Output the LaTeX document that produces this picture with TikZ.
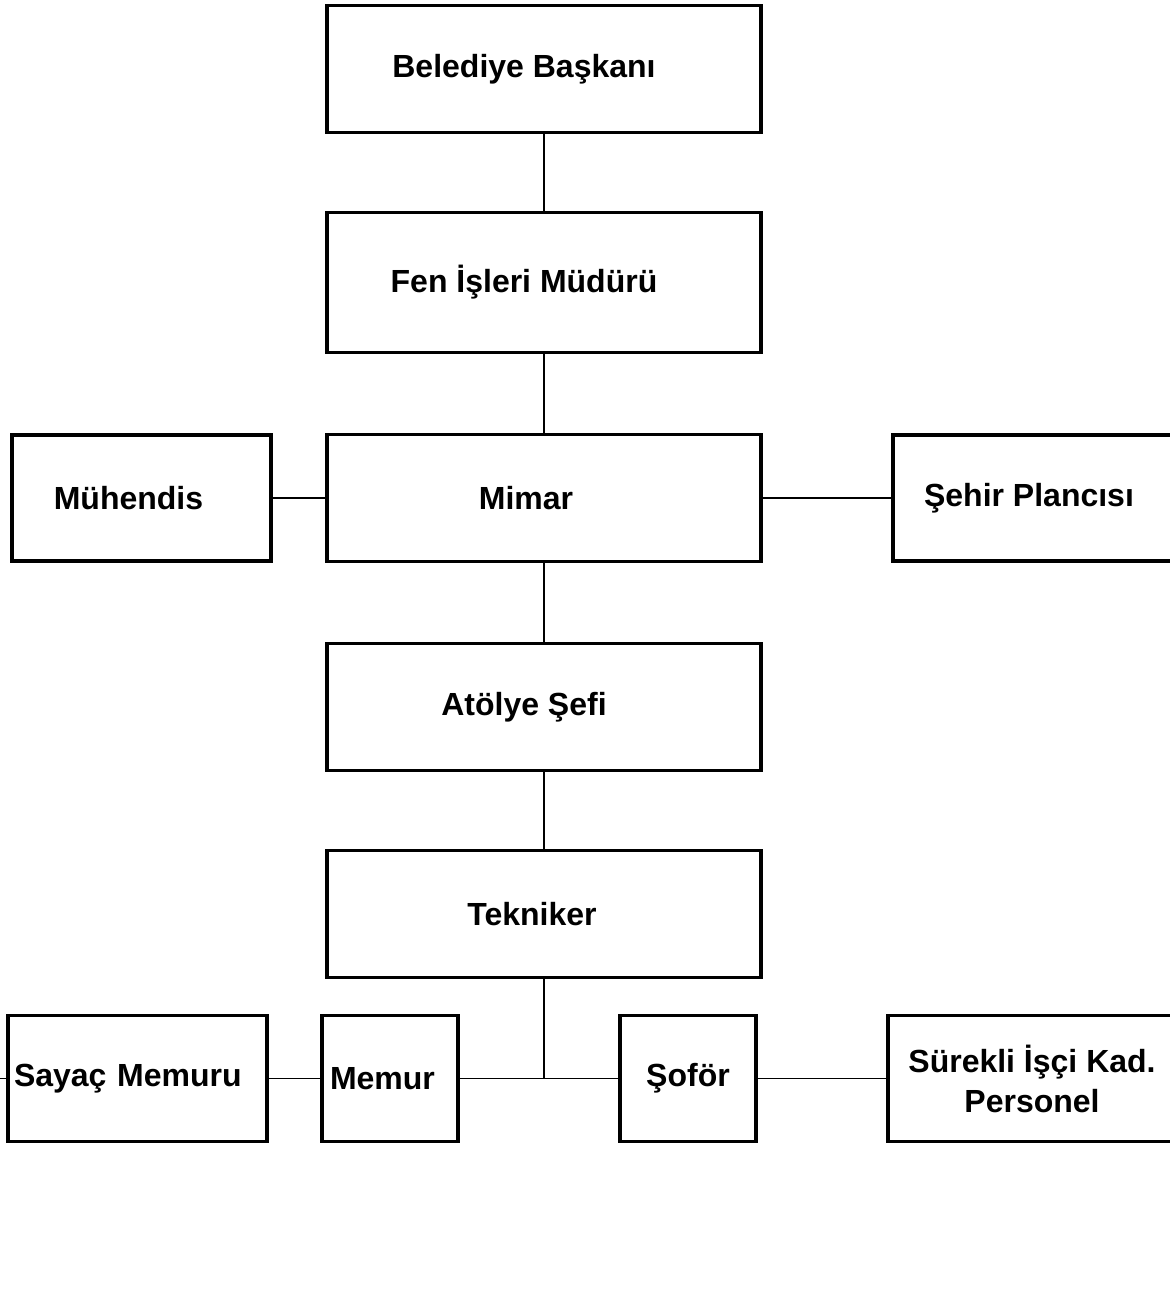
\documentclass[tikz,border=0pt]{standalone}
\usepackage{fontspec}
\setmainfont{Liberation Sans}
\usetikzlibrary{positioning}

\begin{document}
\begin{tikzpicture}[node distance=40pt and 28pt,
box/.style={draw,line width=1.6pt,outer sep=0pt,minimum width=217pt,minimum height=63.5pt,align=center,font=\fontsize{16}{20}\selectfont\bfseries},
offleft/.style={execute at end node=\hspace*{#1}},
sidebox/.style={box,minimum width=129.5pt,minimum height=63pt},
smallbox/.style={box,minimum width=68pt,minimum height=63pt},
link/.style={line width=0.7pt}]
\useasboundingbox (0,0) rectangle (585pt,-649.5pt);
% main column
\node[box,offleft=20pt] (baskan) at (272pt,-34.5pt) {Belediye Başkanı};
\node[box,offleft=20pt,minimum height=70pt,below=of baskan] (mudur) {Fen İşleri Müdürü};
\node[box,offleft=18pt,below=41pt of mudur] (mimar) {Mimar};
\node[box,offleft=20pt,below=41pt of mimar] (atolye) {Atölye Şefi};
\node[box,offleft=12pt,below=of atolye] (tekniker) {Tekniker};
% side boxes
\node[sidebox,offleft=13pt,left=28pt of mimar] (muhendis) {Mühendis};
\node[sidebox,minimum width=144pt,offleft=8pt,right=66pt of mimar] (plancı) {Şehir Plancısı};
% bottom row
\coordinate[below=50.5pt of tekniker,xshift=-2.5pt] (hub);
\node[smallbox,text width=60pt,align=left,inner xsep=3pt,left=40.5pt of hub] (memur) {Memur};
\node[sidebox,text width=123.5pt,align=left,inner xsep=3pt,left=27.5pt of memur] (sayac) {Sayaç Memuru};
\node[smallbox,right=40.5pt of hub] (sofor) {Şoför};
\node[sidebox,minimum width=144pt,right=66pt of sofor] (isci) {Sürekli İşçi Kad.\\Personel};
\coordinate[left=4pt of sayac.west] (stub);
% connectors
\draw[link] (baskan)--(mudur);
\draw[link] (mudur)--(mimar);
\draw[link] (mimar)--(atolye);
\draw[link] (atolye)--(tekniker);
\draw[link] (muhendis)--(mimar);
\draw[link] (mimar)--(plancı);
\draw[link] (tekniker)--(tekniker |- hub);
\draw[link] (memur)--(sofor);
\draw[link] (sayac)--(memur);
\draw[link] (sofor)--(isci);
\draw[link] (sayac.west)--(stub);
\end{tikzpicture}
\end{document}
